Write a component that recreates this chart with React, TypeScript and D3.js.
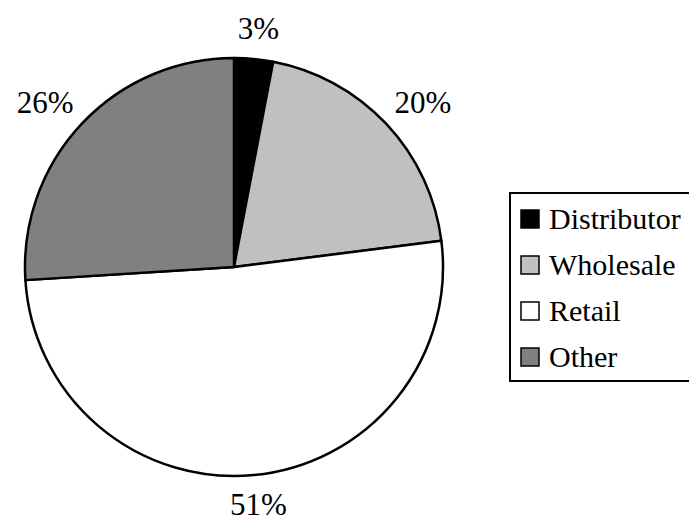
import React from "react";
import * as d3 from "d3";

const categories = ["Distributor", "Wholesale", "Retail", "Other"];
const values = [3, 20, 51, 26];
const labels = ["3%", "20%", "51%", "26%"];
const colors = ["#000000", "#c0c0c0", "#ffffff", "#808080"];

const W = 689;
const H = 523;
const FONT = "'Times New Roman', 'Liberation Serif', serif";

export default function App() {
  const cx = 234;
  const cy = 267;
  const r = 209;
  const pie = d3.pie<number>().sort(null).value((d) => d);
  const arcs = pie(values);
  const arcGen = d3.arc<d3.PieArcDatum<number>>().innerRadius(0).outerRadius(r);
  const legendY = d3.scalePoint<string>().domain(categories).range([219, 357]);

  return (
    <div style={{ fontFamily: FONT }}>
      <svg width={W} height={H} style={{ position: "absolute", left: 0, top: 0, fontFamily: FONT }}>
        <rect x={0} y={0} width={W} height={H} fill="#fff" />
        <g transform={`translate(${cx},${cy})`}>
          {arcs.map((a, i) => (
            <path key={i} d={arcGen(a) || ""} fill={colors[i]} stroke="#000" strokeWidth={2.5} strokeLinejoin="round" />
          ))}
          {arcs.map((a, i) => {
            const mid = (a.startAngle + a.endAngle) / 2;
            const s = Math.sin(mid);
            const c = -Math.cos(mid);
            const rr = r + 21;
            const x = rr * s + 29 * s;
            const y = rr * c + 9 * c + 10;
            return (
              <text key={"l" + i} x={x} y={y} textAnchor="middle" fontSize={31} style={{ fontFamily: FONT }}>
                {labels[i]}
              </text>
            );
          })}
        </g>
        <rect x={510} y={193} width={200} height={188} fill="#fff" stroke="#000" strokeWidth={2} />
        {categories.map((c, i) => {
          const y = legendY(c)!;
          return (
            <g key={c}>
              <rect x={521} y={y - 9} width={18} height={18} fill={colors[i]} stroke="#000" strokeWidth={1.5} />
              <text x={549} y={y + 10} fontSize={30} style={{ fontFamily: FONT }}>
                {c}
              </text>
            </g>
          );
        })}
      </svg>
    </div>
  );
}
